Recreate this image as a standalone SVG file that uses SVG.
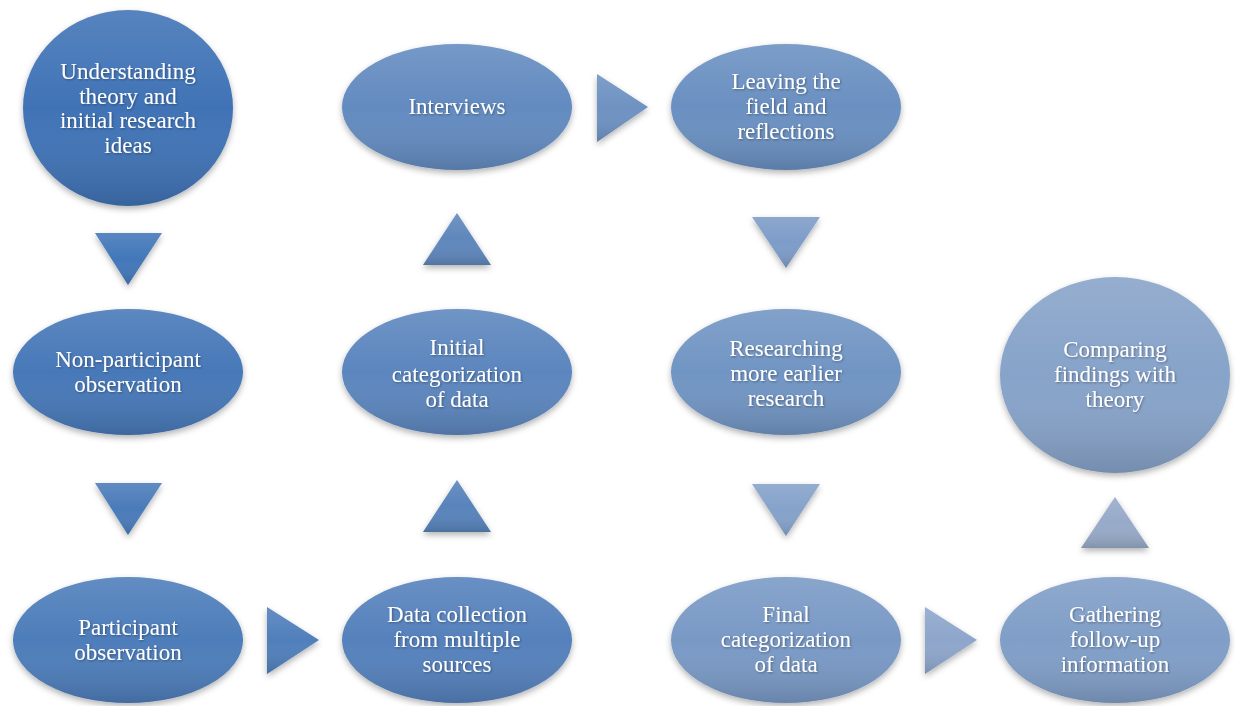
<svg xmlns="http://www.w3.org/2000/svg" width="1235" height="706" viewBox="0 0 1235 706">
<defs>
<linearGradient id="shade" x1="0" y1="0" x2="0" y2="1">
<stop offset="0" stop-color="#ffffff" stop-opacity="0.12"/>
<stop offset="0.5" stop-color="#ffffff" stop-opacity="0"/>
<stop offset="1" stop-color="#000000" stop-opacity="0.14"/>
</linearGradient>
<filter id="sh" x="-20%" y="-20%" width="140%" height="150%">
<feDropShadow dx="0" dy="3" stdDeviation="3" flood-color="#000" flood-opacity="0.3"/>
</filter>
<filter id="tsh" x="-10%" y="-30%" width="120%" height="160%">
<feDropShadow dx="1" dy="1" stdDeviation="1" flood-color="#000" flood-opacity="0.35"/>
</filter>
</defs>
<style>
.lbl{font-family:"Liberation Serif","Times New Roman",serif;font-size:23px;fill:#ffffff;text-anchor:middle;filter:url(#tsh)}
.sd{fill:url(#shade)}
</style>
<rect width="1235" height="706" fill="#ffffff"/>

<g id="connectors">
<g filter="url(#sh)">
<polygon points="95,233 162,233 128,285" fill="#4277b9"/>
<polygon points="95,233 162,233 128,285" class="sd"/>
<polygon points="95,483 162,483 128,535" fill="#4a7bb9"/>
<polygon points="95,483 162,483 128,535" class="sd"/>
<polygon points="267,607 267,674 319,640" fill="#507fbb"/>
<polygon points="267,607 267,674 319,640" class="sd"/>
<polygon points="423,532 491,532 457,480" fill="#5883bb"/>
<polygon points="423,532 491,532 457,480" class="sd"/>
<polygon points="423,265 491,265 457,213" fill="#5f87bc"/>
<polygon points="423,265 491,265 457,213" class="sd"/>
<polygon points="597,74 597,142 648,107" fill="#6e92c2"/>
<polygon points="597,74 597,142 648,107" class="sd"/>
<polygon points="752,217 820,217 786,268" fill="#7d9cc8"/>
<polygon points="752,217 820,217 786,268" class="sd"/>
<polygon points="752,484 820,484 786,536" fill="#85a2ca"/>
<polygon points="752,484 820,484 786,536" class="sd"/>
<polygon points="925,607 925,674 977,640" fill="#8ea6cb"/>
<polygon points="925,607 925,674 977,640" class="sd"/>
<polygon points="1081,548 1149,548 1115,497" fill="#97aac8"/>
<polygon points="1081,548 1149,548 1115,497" class="sd"/>
</g>
</g>

<g id="n1">
<ellipse cx="128" cy="108" rx="105" ry="98" fill="#3f73b6" filter="url(#sh)"/>
<ellipse cx="128" cy="108" rx="105" ry="98" class="sd"/>
<text class="lbl"><tspan x="128" y="79">Understanding</tspan><tspan x="128" y="104">theory and</tspan><tspan x="128" y="128">initial  research</tspan><tspan x="128" y="153">ideas</tspan></text>
</g>
<g id="n2">
<ellipse cx="128" cy="372" rx="115" ry="63" fill="#4678b8" filter="url(#sh)"/>
<ellipse cx="128" cy="372" rx="115" ry="63" class="sd"/>
<text class="lbl"><tspan x="128" y="367">Non-participant</tspan><tspan x="128" y="392">observation</tspan></text>
</g>
<g id="n3">
<ellipse cx="128" cy="640" rx="115" ry="63" fill="#4d7dba" filter="url(#sh)"/>
<ellipse cx="128" cy="640" rx="115" ry="63" class="sd"/>
<text class="lbl"><tspan x="128" y="635">Participant</tspan><tspan x="128" y="660">observation</tspan></text>
</g>
<g id="n4">
<ellipse cx="457" cy="640" rx="115" ry="63" fill="#5581bc" filter="url(#sh)"/>
<ellipse cx="457" cy="640" rx="115" ry="63" class="sd"/>
<text class="lbl"><tspan x="457" y="622">Data collection</tspan><tspan x="457" y="647">from multiple</tspan><tspan x="457" y="672">sources</tspan></text>
</g>
<g id="n5">
<ellipse cx="457" cy="372" rx="115" ry="63" fill="#5c86be" filter="url(#sh)"/>
<ellipse cx="457" cy="372" rx="115" ry="63" class="sd"/>
<text class="lbl"><tspan x="457" y="355">Initial</tspan><tspan x="457" y="382">categorization</tspan><tspan x="457" y="407">of data</tspan></text>
</g>
<g id="n6">
<ellipse cx="457" cy="107" rx="115" ry="63" fill="#638bc0" filter="url(#sh)"/>
<ellipse cx="457" cy="107" rx="115" ry="63" class="sd"/>
<text class="lbl"><tspan x="457" y="114">Interviews</tspan></text>
</g>
<g id="n7">
<ellipse cx="786" cy="107" rx="115" ry="63" fill="#6a90c1" filter="url(#sh)"/>
<ellipse cx="786" cy="107" rx="115" ry="63" class="sd"/>
<text class="lbl"><tspan x="786" y="89">Leaving  the</tspan><tspan x="786" y="114">field and</tspan><tspan x="786" y="139">reflections</tspan></text>
</g>
<g id="n8">
<ellipse cx="786" cy="372" rx="115" ry="63" fill="#7195c3" filter="url(#sh)"/>
<ellipse cx="786" cy="372" rx="115" ry="63" class="sd"/>
<text class="lbl"><tspan x="786" y="356">Researching</tspan><tspan x="786" y="381">more earlier</tspan><tspan x="786" y="406">research</tspan></text>
</g>
<g id="n9">
<ellipse cx="786" cy="640" rx="115" ry="63" fill="#7999c5" filter="url(#sh)"/>
<ellipse cx="786" cy="640" rx="115" ry="63" class="sd"/>
<text class="lbl"><tspan x="786" y="622">Final</tspan><tspan x="786" y="647">categorization</tspan><tspan x="786" y="672">of data</tspan></text>
</g>
<g id="n10">
<ellipse cx="1115" cy="640" rx="115" ry="63" fill="#809ec7" filter="url(#sh)"/>
<ellipse cx="1115" cy="640" rx="115" ry="63" class="sd"/>
<text class="lbl"><tspan x="1115" y="622">Gathering</tspan><tspan x="1115" y="647">follow-up</tspan><tspan x="1115" y="672">information</tspan></text>
</g>
<g id="n11">
<ellipse cx="1115" cy="375" rx="115" ry="98" fill="#87a3c9" filter="url(#sh)"/>
<ellipse cx="1115" cy="375" rx="115" ry="98" class="sd"/>
<text class="lbl"><tspan x="1115" y="357">Comparing</tspan><tspan x="1115" y="382">findings  with</tspan><tspan x="1115" y="407">theory</tspan></text>
</g>
</svg>
